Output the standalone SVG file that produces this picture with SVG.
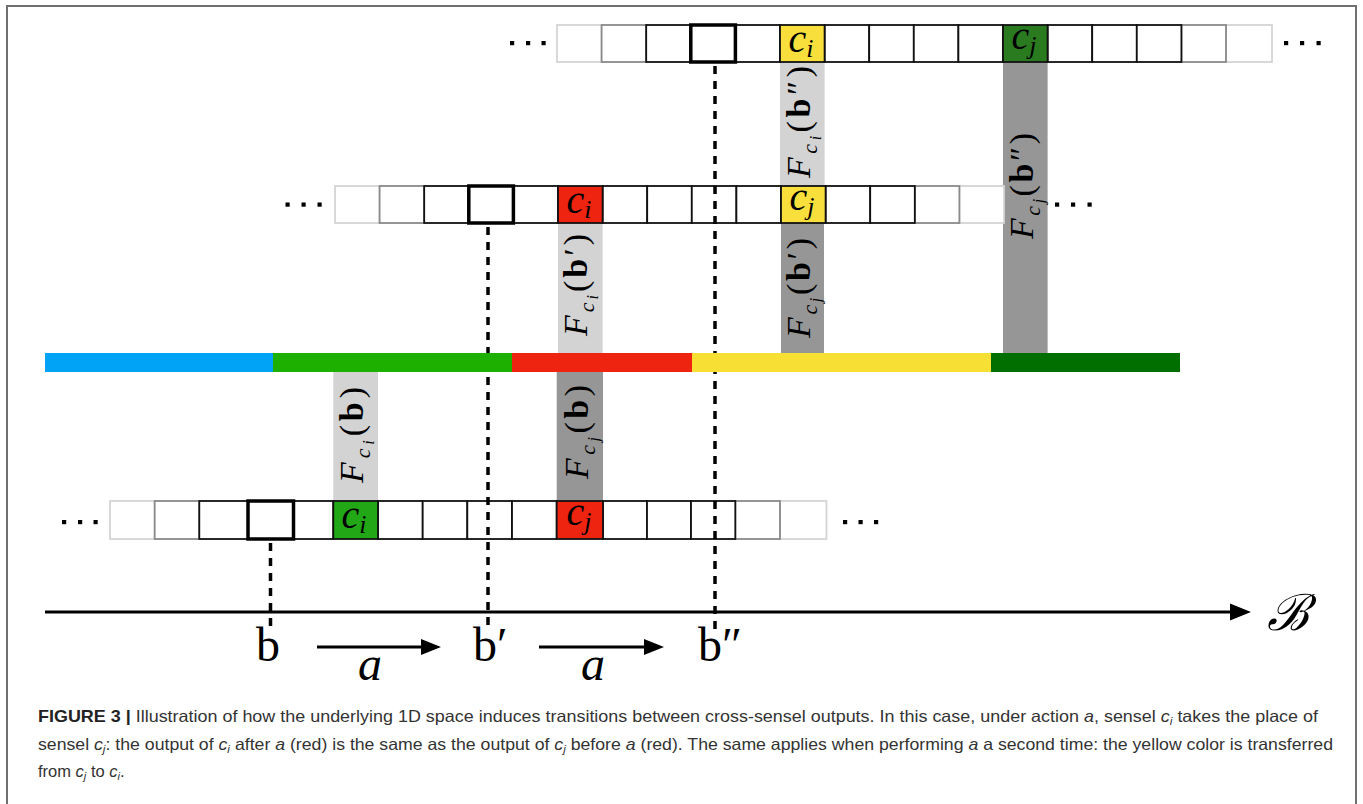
<svg xmlns="http://www.w3.org/2000/svg" width="1363" height="804" viewBox="0 0 1363 804">
<style>
.cl{fill:#fff;stroke:#d4d4d4;stroke-width:1.8}
.cg{fill:#fff;stroke:#8a8a8a;stroke-width:1.8}
.ck{fill:#fff;stroke:#111;stroke-width:1.8}
.cb{fill:none;stroke:#000;stroke-width:3.5}
.yel{fill:#f8df3c;stroke:#111;stroke-width:1.8}
.red{fill:#ee2310;stroke:#111;stroke-width:1.8}
.grn{fill:#22a817;stroke:#111;stroke-width:1.8}
.dgr{fill:#2a7a1f;stroke:#111;stroke-width:1.8}
.lbar{fill:#d3d3d3}
.dbar{fill:#969696}
.dash{stroke:#000;stroke-width:3.5;stroke-dasharray:8 7;fill:none}
.dot{fill:#000}
.m{font-family:"Liberation Serif","DejaVu Serif",serif;fill:#000}
.it{font-style:italic}
.fl{font-family:"Liberation Serif","DejaVu Serif",serif;font-size:34px;fill:#000}
.cv{font-family:"Liberation Serif","DejaVu Serif",serif;font-size:40px;fill:#000;font-style:italic}
.cap{font-family:"Liberation Sans","Arial",sans-serif;font-size:16.5px;fill:#333}
</style>
<rect id="frame" x="7" y="6" width="1349" height="820" fill="none" stroke="#707070" stroke-width="2"/>

<g id="projections">
<rect class="lbar" x="780" y="60" width="44.6" height="127"/>
<rect class="lbar" x="558" y="222" width="44.6" height="132"/>
<rect class="lbar" x="333.3" y="371" width="44.7" height="131"/>
<rect class="dbar" x="1003" y="60" width="44.6" height="294"/>
<rect class="dbar" x="781" y="222" width="43" height="132"/>
<rect class="dbar" x="556.7" y="371" width="46.3" height="131"/>
</g>

<g id="row-top">
<rect class="cl" x="557" y="25" width="44.6" height="37"/>
<rect class="cl" x="1226" y="25" width="46" height="37"/>
<rect class="cg" x="601.6" y="25" width="44.6" height="37"/>
<rect class="cg" x="1181.4" y="25" width="44.6" height="37"/>
<rect class="ck" x="646.2" y="25" width="44.6" height="37"/>
<rect class="ck" x="690.8" y="25" width="44.6" height="37"/>
<rect class="ck" x="735.4" y="25" width="44.6" height="37"/>
<rect class="ck" x="824.6" y="25" width="44.6" height="37"/>
<rect class="ck" x="869.2" y="25" width="44.6" height="37"/>
<rect class="ck" x="913.8" y="25" width="44.6" height="37"/>
<rect class="ck" x="958.4" y="25" width="44.6" height="37"/>
<rect class="ck" x="1047.6" y="25" width="44.6" height="37"/>
<rect class="ck" x="1092.2" y="25" width="44.6" height="37"/>
<rect class="ck" x="1136.8" y="25" width="44.6" height="37"/>
<rect class="yel" x="780" y="25" width="44.6" height="37"/>
<rect class="dgr" x="1003" y="25" width="44.6" height="37"/>
<rect class="cb" x="690.8" y="25" width="44.6" height="37"/>
<text class="cv" x="801" y="52" text-anchor="middle">c<tspan font-size="26" dy="5">i</tspan></text>
<text class="cv" x="1024" y="49" text-anchor="middle">c<tspan font-size="26" dy="5">j</tspan></text>
<rect class="dot" x="510" y="41" width="4.2" height="4.2"/>
<rect class="dot" x="526" y="41" width="4.2" height="4.2"/>
<rect class="dot" x="541.5" y="41" width="4.2" height="4.2"/>
<rect class="dot" x="1284" y="41" width="4.2" height="4.2"/>
<rect class="dot" x="1300" y="41" width="4.2" height="4.2"/>
<rect class="dot" x="1316.5" y="41" width="4.2" height="4.2"/>
</g>

<g id="row-middle">
<rect class="cl" x="335" y="186" width="44.6" height="37"/>
<rect class="cl" x="959.4" y="186" width="44.6" height="37"/>
<rect class="cg" x="379.6" y="186" width="44.6" height="37"/>
<rect class="cg" x="914.8" y="186" width="44.6" height="37"/>
<rect class="ck" x="424.2" y="186" width="44.6" height="37"/>
<rect class="ck" x="468.8" y="186" width="44.6" height="37"/>
<rect class="ck" x="513.4" y="186" width="44.6" height="37"/>
<rect class="ck" x="602.6" y="186" width="44.6" height="37"/>
<rect class="ck" x="647.2" y="186" width="44.6" height="37"/>
<rect class="ck" x="691.8" y="186" width="44.6" height="37"/>
<rect class="ck" x="736.4" y="186" width="44.6" height="37"/>
<rect class="ck" x="825.6" y="186" width="44.6" height="37"/>
<rect class="ck" x="870.2" y="186" width="44.6" height="37"/>
<rect class="red" x="558" y="186" width="44.6" height="37"/>
<rect class="yel" x="781" y="186" width="44.6" height="37"/>
<rect class="cb" x="468.8" y="186" width="44.6" height="37"/>
<text class="cv" x="579" y="213" text-anchor="middle">c<tspan font-size="26" dy="5">i</tspan></text>
<text class="cv" x="802" y="210" text-anchor="middle">c<tspan font-size="26" dy="5">j</tspan></text>
<rect class="dot" x="285.5" y="202.5" width="4.2" height="4.2"/>
<rect class="dot" x="301.5" y="202.5" width="4.2" height="4.2"/>
<rect class="dot" x="317.5" y="202.5" width="4.2" height="4.2"/>
<rect class="dot" x="1055" y="202.5" width="4.2" height="4.2"/>
<rect class="dot" x="1071" y="202.5" width="4.2" height="4.2"/>
<rect class="dot" x="1087.5" y="202.5" width="4.2" height="4.2"/>
</g>

<g id="row-bottom">
<rect class="cl" x="110" y="501" width="44.7" height="38"/>
<rect class="cl" x="780" y="501" width="46.5" height="38"/>
<rect class="cg" x="154.7" y="501" width="44.6" height="38"/>
<rect class="cg" x="735.3" y="501" width="44.7" height="38"/>
<rect class="ck" x="199.3" y="501" width="48.7" height="38"/>
<rect class="ck" x="248" y="501" width="45.5" height="38"/>
<rect class="ck" x="293.5" y="501" width="39.8" height="38"/>
<rect class="ck" x="378" y="501" width="44.7" height="38"/>
<rect class="ck" x="422.7" y="501" width="44.6" height="38"/>
<rect class="ck" x="467.3" y="501" width="44.7" height="38"/>
<rect class="ck" x="512" y="501" width="44.7" height="38"/>
<rect class="ck" x="603" y="501" width="44" height="38"/>
<rect class="ck" x="647" y="501" width="44" height="38"/>
<rect class="ck" x="691" y="501" width="44.3" height="38"/>
<rect class="grn" x="333.3" y="501" width="44.7" height="38"/>
<rect class="red" x="556.7" y="501" width="46.3" height="38"/>
<rect class="cb" x="248" y="501" width="45.5" height="38"/>
<text class="cv" x="354" y="528" text-anchor="middle">c<tspan font-size="26" dy="5">i</tspan></text>
<text class="cv" x="579" y="525" text-anchor="middle">c<tspan font-size="26" dy="5">j</tspan></text>
<rect class="dot" x="62" y="520" width="4.2" height="4.2"/>
<rect class="dot" x="78" y="520" width="4.2" height="4.2"/>
<rect class="dot" x="93.5" y="520" width="4.2" height="4.2"/>
<rect class="dot" x="843" y="520" width="4.2" height="4.2"/>
<rect class="dot" x="858.5" y="520" width="4.2" height="4.2"/>
<rect class="dot" x="874" y="520" width="4.2" height="4.2"/>
</g>

<g id="connectors">
<line class="dash" x1="715" y1="66" x2="715" y2="630"/>
<line class="dash" x1="488" y1="227" x2="488" y2="630"/>
<line class="dash" x1="270.5" y1="543" x2="270.5" y2="630"/>
<line x1="45" y1="612" x2="1232" y2="612" stroke="#000" stroke-width="3"/>
<polygon points="1230,603.5 1251,612 1230,620.5" fill="#000"/>
<line x1="317" y1="647" x2="424" y2="647" stroke="#000" stroke-width="3"/>
<polygon points="421,639 441,647 421,655" fill="#000"/>
<line x1="539" y1="647" x2="647" y2="647" stroke="#000" stroke-width="3"/>
<polygon points="644,639 664,647 644,655" fill="#000"/>
</g>

<g id="sensor-space">
<rect x="45" y="353" width="228" height="19" fill="#00a3f5"/>
<rect x="273" y="353" width="239" height="19" fill="#1eb000"/>
<rect x="512" y="353" width="180" height="19" fill="#ee2310"/>
<rect x="692" y="353" width="299" height="19" fill="#f8df34"/>
<rect x="991" y="353" width="189" height="19" fill="#006f00"/>
</g>

<g id="projection-labels">
<g transform="translate(810,122) rotate(-90)"><text class="fl" text-anchor="middle" textLength="112" lengthAdjust="spacing"><tspan class="it">F</tspan><tspan class="it" font-size="22" dy="7">c</tspan><tspan class="it" font-size="16" dy="4">i</tspan><tspan dy="-11">(</tspan><tspan font-weight="bold">b</tspan>″)</text></g>
<g transform="translate(1033,186) rotate(-90)"><text class="fl" text-anchor="middle" textLength="106" lengthAdjust="spacing"><tspan class="it">F</tspan><tspan class="it" font-size="22" dy="7">c</tspan><tspan class="it" font-size="16" dy="4">j</tspan><tspan dy="-11">(</tspan><tspan font-weight="bold">b</tspan>″)</text></g>
<g transform="translate(587,285) rotate(-90)"><text class="fl" text-anchor="middle" textLength="102" lengthAdjust="spacing"><tspan class="it">F</tspan><tspan class="it" font-size="22" dy="7">c</tspan><tspan class="it" font-size="16" dy="4">i</tspan><tspan dy="-11">(</tspan><tspan font-weight="bold">b</tspan>′)</text></g>
<g transform="translate(810,288) rotate(-90)"><text class="fl" text-anchor="middle" textLength="100" lengthAdjust="spacing"><tspan class="it">F</tspan><tspan class="it" font-size="22" dy="7">c</tspan><tspan class="it" font-size="16" dy="4">j</tspan><tspan dy="-11">(</tspan><tspan font-weight="bold">b</tspan>′)</text></g>
<g transform="translate(363,435) rotate(-90)"><text class="fl" text-anchor="middle" textLength="96" lengthAdjust="spacing"><tspan class="it">F</tspan><tspan class="it" font-size="22" dy="7">c</tspan><tspan class="it" font-size="16" dy="4">i</tspan><tspan dy="-11">(</tspan><tspan font-weight="bold">b</tspan>)</text></g>
<g transform="translate(588,432) rotate(-90)"><text class="fl" text-anchor="middle" textLength="94" lengthAdjust="spacing"><tspan class="it">F</tspan><tspan class="it" font-size="22" dy="7">c</tspan><tspan class="it" font-size="16" dy="4">j</tspan><tspan dy="-11">(</tspan><tspan font-weight="bold">b</tspan>)</text></g>
</g>

<g id="axis-labels">
<text class="m" x="268" y="661" font-size="48" text-anchor="middle">b</text>
<text class="m" x="473" y="661" font-size="48">b′</text>
<text class="m" x="698" y="661" font-size="48">b″</text>
<text class="m it" x="370" y="680" font-size="48" text-anchor="middle">a</text>
<text class="m it" x="593" y="680" font-size="48" text-anchor="middle">a</text>
<text class="m it" x="1288" y="630" font-size="50" text-anchor="middle">ℬ</text>
</g>

<g id="caption">
<text class="cap" x="38" y="722" textLength="1280" lengthAdjust="spacingAndGlyphs"><tspan font-weight="bold" fill="#222">FIGURE 3 |</tspan> Illustration of how the underlying 1D space induces transitions between cross-sensel outputs. In this case, under action <tspan font-style="italic">a</tspan>, sensel <tspan font-style="italic">c</tspan><tspan font-style="italic" font-size="11" dy="3">i</tspan><tspan dy="-3"> takes the place of</tspan></text>
<text class="cap" x="38" y="750" textLength="1295" lengthAdjust="spacingAndGlyphs">sensel <tspan font-style="italic">c</tspan><tspan font-style="italic" font-size="11" dy="3">j</tspan><tspan dy="-3">: the output of </tspan><tspan font-style="italic">c</tspan><tspan font-style="italic" font-size="11" dy="3">i</tspan><tspan dy="-3"> after </tspan><tspan font-style="italic">a</tspan> (red) is the same as the output of <tspan font-style="italic">c</tspan><tspan font-style="italic" font-size="11" dy="3">j</tspan><tspan dy="-3"> before </tspan><tspan font-style="italic">a</tspan> (red). The same applies when performing <tspan font-style="italic">a</tspan> a second time: the yellow color is transferred</text>
<text class="cap" x="38" y="777">from <tspan font-style="italic">c</tspan><tspan font-style="italic" font-size="11" dy="3">j</tspan><tspan dy="-3"> to </tspan><tspan font-style="italic">c</tspan><tspan font-style="italic" font-size="11" dy="3">i</tspan><tspan dy="-3">.</tspan></text>
</g>
</svg>
